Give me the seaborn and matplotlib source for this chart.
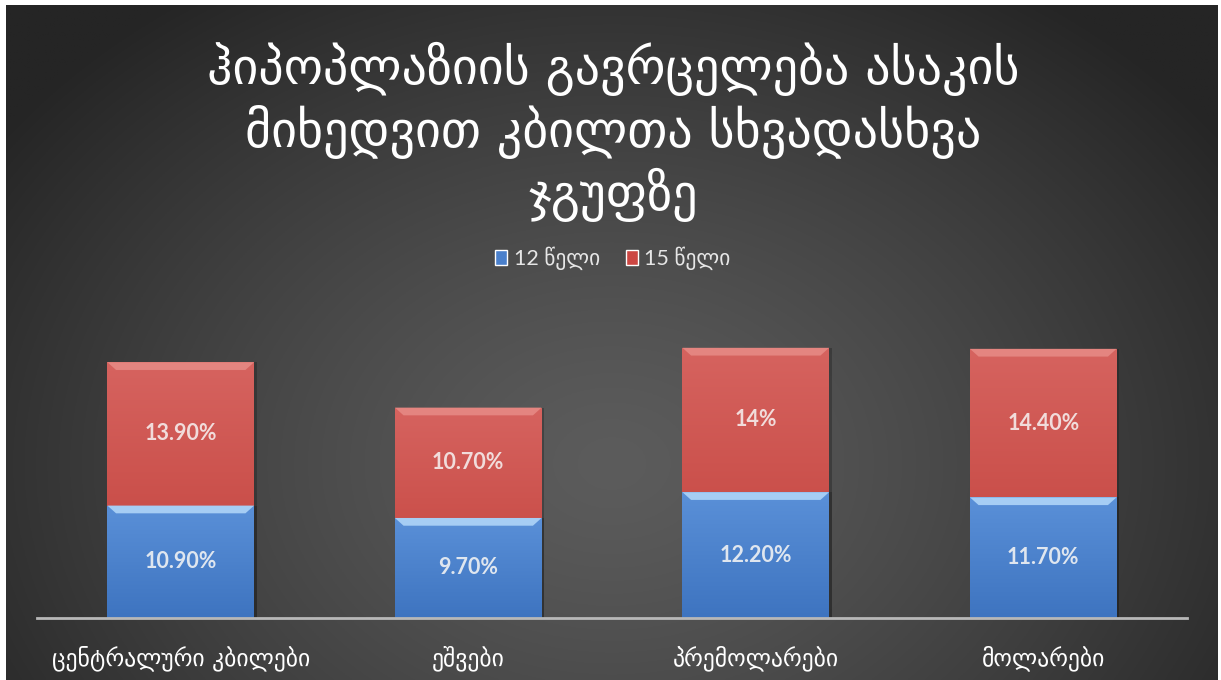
import numpy as np
import pandas as pd
import matplotlib
matplotlib.use("Agg")
import matplotlib.pyplot as plt
from matplotlib.patches import Polygon, Rectangle
import seaborn as sns

# Data
categories = ["ცენტრალური კბილები", "ეშვები", "პრემოლარები", "მოლარები"]
series_names = ["12 წელი", "15 წელი"]
age12 = [10.9, 9.7, 12.2, 11.7]
age15 = [13.9, 10.7, 14.0, 14.4]
labels12 = ["10.90%", "9.70%", "12.20%", "11.70%"]
labels15 = ["13.90%", "10.70%", "14%", "14.40%"]
title = "ჰიპოპლაზიის გავრცელება ასაკის\nმიხედვით კბილთა სხვადასხვა\nჯგუფზე"

sns.set_theme(style="white")
plt.rcParams["font.family"] = ["Lato", "DejaVu Sans"]

fig = plt.figure(figsize=(12.21, 6.8), dpi=100)
fig.patch.set_facecolor("white")

# Dark radial backdrop
bg = fig.add_axes([6 / 1221, 0, 1 - 9 / 1221, 1 - 5 / 680])
bg.set_axis_off()
yy, xx = np.mgrid[0:1:400j, 0:1:700j]
r = np.sqrt(((xx - 0.5) / 0.62) ** 2 + ((yy - 0.32) / 0.85) ** 2)
r = np.clip(r, 0, 1)
c_in, c_out = 0x5c / 255, 0x25 / 255
img = c_in + (c_out - c_in) * r ** 1.3
bg.imshow(np.dstack([img, img, img]), origin="lower", aspect="auto",
          extent=[0, 1, 0, 1])
bg.set_xlim(0, 1)
bg.set_ylim(0, 1)

ax = fig.add_axes([37 / 1221, 62 / 680, 1150 / 1221, 330 / 680])
ax.patch.set_alpha(0)

df = pd.DataFrame({"cat": categories, "a12": age12, "a15": age15})
df["total"] = df["a12"] + df["a15"]

red, blue = "#cc4743", "#4a80cc"
sns.barplot(data=df, x="cat", y="total", color=red, saturation=1,
            width=0.51, ax=ax, linewidth=0)
sns.barplot(data=df, x="cat", y="a12", color=blue, saturation=1,
            width=0.51, ax=ax, linewidth=0)

# Shading and bevel on each segment
tones = {"r": ("#e48580", "#d6635f", "#c1403a"),
         "b": ("#a6cdf4", "#5a90d8", "#3e74c0")}
for i, p in enumerate(list(ax.patches)):
    kind = "r" if i < len(categories) else "b"
    x0, y0 = p.get_x(), p.get_y()
    w, h = p.get_width(), p.get_height()
    light, mid, dark = tones[kind]
    cmap = matplotlib.colors.LinearSegmentedColormap.from_list("g", [dark, mid])
    grad = np.linspace(0, 1, 100).reshape(-1, 1)
    im = ax.imshow(grad, cmap=cmap, origin="lower", aspect="auto",
                   extent=[x0, x0 + w, y0, y0 + h], zorder=p.get_zorder() + 0.1)
    im.set_clip_path(p)
    dx, dy = 0.03, 0.75
    bevel = Polygon([[x0, y0 + h], [x0 + w, y0 + h], [x0 + w - dx, y0 + h - dy],
                     [x0 + dx, y0 + h - dy]], closed=True, facecolor=light,
                    edgecolor="none", zorder=p.get_zorder() + 0.2)
    ax.add_patch(bevel)
    side = Rectangle((x0 + w, y0), 0.01, h, facecolor="#1c1c1c", alpha=0.35,
                     edgecolor="none", zorder=p.get_zorder())
    ax.add_patch(side)

ax.set_xlim(-0.5, 3.5)
ax.set_ylim(0, 32)

for i in range(len(categories)):
    ax.text(i, age12[i] / 2, labels12[i], ha="center", va="center",
            color="#dfe6ef", fontsize=15.5, fontweight="bold", zorder=10)
    ax.text(i, age12[i] + age15[i] / 2, labels15[i], ha="center", va="center",
            color="#f1dcdb", fontsize=15.5, fontweight="bold", zorder=10)

ax.set_xlabel("")
ax.set_ylabel("")
ax.set_yticks([])
ax.tick_params(axis="x", length=0, pad=20, labelsize=17, labelcolor="white")
for lab in ax.get_xticklabels():
    lab.set_family(["DejaVu Sans"])
for s in ["top", "right", "left"]:
    ax.spines[s].set_visible(False)
ax.spines["bottom"].set_color("#b8b8b8")
ax.spines["bottom"].set_linewidth(2)

fig.text(0.502, 0.806, title, ha="center", va="center", color="white",
         fontsize=36, family=["DejaVu Sans"], linespacing=1.22)

handles = [Rectangle((0, 0), 1, 1, facecolor=blue),
           Rectangle((0, 0), 1, 1, facecolor=red)]
leg = fig.legend(handles, series_names, loc="center", bbox_to_anchor=(0.502, 0.62),
                 ncol=2, frameon=False, fontsize=15.5, handlelength=0.55,
                 handleheight=0.75, handletextpad=0.3, columnspacing=1.2)
for t in leg.get_texts():
    t.set_color("#e6e6e6")
    t.set_family(["Lato", "DejaVu Sans"])

fig.savefig("out.png", dpi=100, facecolor=fig.get_facecolor())
